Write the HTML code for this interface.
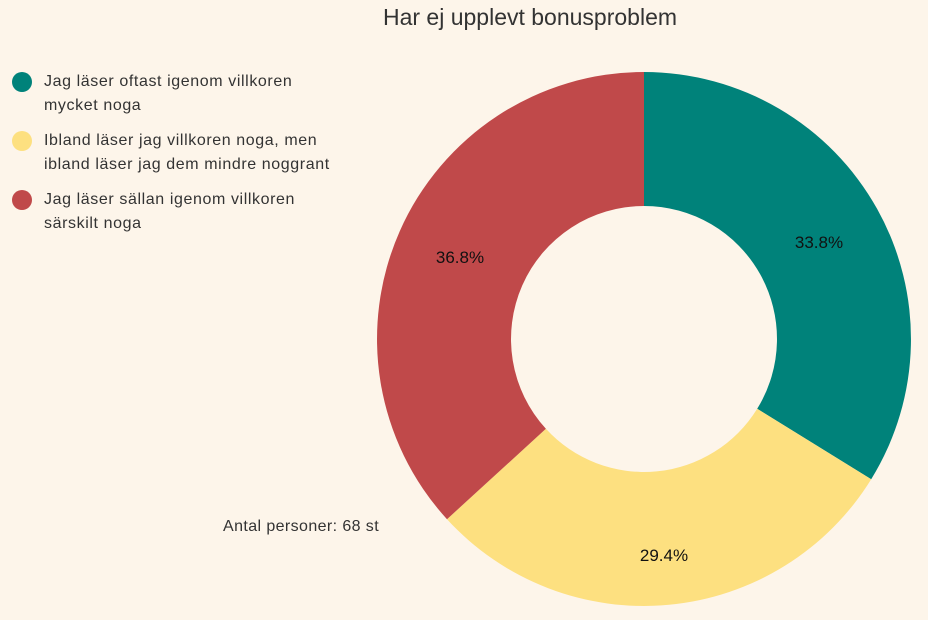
<!DOCTYPE html>
<html><head><meta charset="utf-8"><style>
html,body{margin:0;padding:0;background:#fdf5ea;}
body{width:928px;height:620px;position:relative;overflow:hidden;font-family:"Liberation Sans",sans-serif;color:#333;}
.t{position:absolute;white-space:nowrap;}
.leg{font-size:16px;line-height:24px;left:44px;letter-spacing:0.6px;}
.dot{position:absolute;left:12px;width:20px;height:20px;border-radius:50%;}
</style></head><body>
<div class="t" style="left:0;width:1060px;text-align:center;top:4px;font-size:23px;color:#333;">Har ej upplevt bonusproblem</div>
<div class="dot" style="top:72px;background:#00827a"></div>
<div class="t leg" style="top:70px">Jag läser oftast igenom villkoren<br>mycket noga</div>
<div class="dot" style="top:131px;background:#fde080"></div>
<div class="t leg" style="top:129px">Ibland läser jag villkoren noga, men<br>ibland läser jag dem mindre noggrant</div>
<div class="dot" style="top:190px;background:#c0494a"></div>
<div class="t leg" style="top:188px">Jag läser sällan igenom villkoren<br>särskilt noga</div>
<div class="t" style="left:223px;top:518px;font-size:16px;letter-spacing:0.4px;">Antal personer: 68 st</div>
<svg width="928" height="620" style="position:absolute;left:0;top:0">
<path d="M644 72 A267 267 0 0 1 871.2 479.2 L757.2 408.8 A133 133 0 0 0 644 206 Z" fill="#00827a"/>
<path d="M871.2 479.2 A267 267 0 0 1 447 519.2 L545.9 428.8 A133 133 0 0 0 757.2 408.8 Z" fill="#fde080"/>
<path d="M447 519.2 A267 267 0 0 1 644 72 L644 206 A133 133 0 0 0 545.9 428.8 Z" fill="#c0494a"/>
<g font-family="Liberation Sans, sans-serif" font-size="17" fill="#111" text-anchor="middle">
<text x="819" y="248">33.8%</text>
<text x="664" y="561">29.4%</text>
<text x="460" y="263">36.8%</text>
</g>
</svg>
</body></html>
